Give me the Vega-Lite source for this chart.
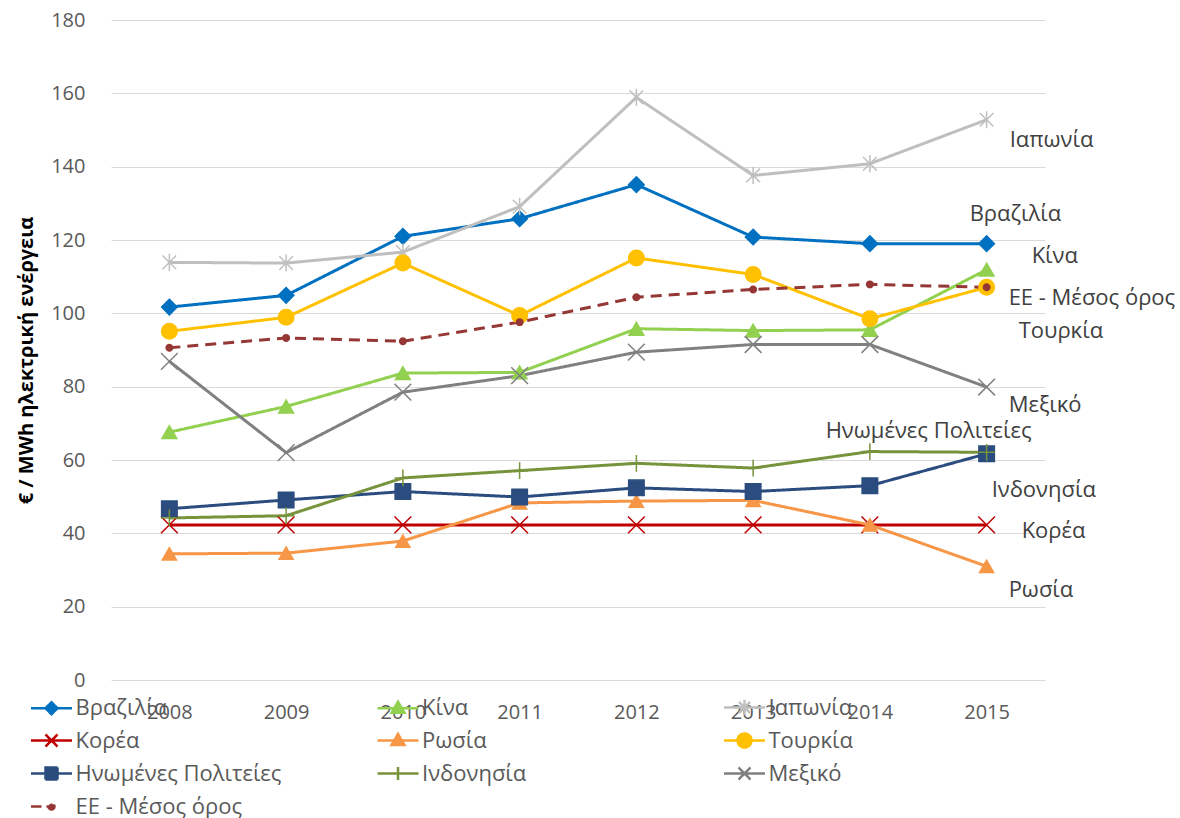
{
  "$schema": "https://vega.github.io/schema/vega-lite/v6.json",
  "width": 934,
  "height": 660,
  "autosize": {"type": "none"},
  "padding": {"left": 111, "top": 20, "right": 135, "bottom": 138},
  "background": "white",
  "config": {
    "view": {"stroke": null},
    "font": "Open Sans",
    "text": {"font": "Open Sans", "fontSize": 22, "color": "#404040", "baseline": "middle", "align": "left"}
  },
  "data": {
    "values": [
      {"series": "Βραζιλία", "year": "2008", "value": 101.7},
      {"series": "Βραζιλία", "year": "2009", "value": 104.9},
      {"series": "Βραζιλία", "year": "2010", "value": 121.0},
      {"series": "Βραζιλία", "year": "2011", "value": 125.8},
      {"series": "Βραζιλία", "year": "2012", "value": 135.1},
      {"series": "Βραζιλία", "year": "2013", "value": 120.8},
      {"series": "Βραζιλία", "year": "2014", "value": 119.0},
      {"series": "Βραζιλία", "year": "2015", "value": 119.0},
      {"series": "Κίνα", "year": "2008", "value": 67.6},
      {"series": "Κίνα", "year": "2009", "value": 74.6},
      {"series": "Κίνα", "year": "2010", "value": 83.7},
      {"series": "Κίνα", "year": "2011", "value": 83.9},
      {"series": "Κίνα", "year": "2012", "value": 95.8},
      {"series": "Κίνα", "year": "2013", "value": 95.3},
      {"series": "Κίνα", "year": "2014", "value": 95.5},
      {"series": "Κίνα", "year": "2015", "value": 111.9},
      {"series": "Ιαπωνία", "year": "2008", "value": 113.9},
      {"series": "Ιαπωνία", "year": "2009", "value": 113.7},
      {"series": "Ιαπωνία", "year": "2010", "value": 116.7},
      {"series": "Ιαπωνία", "year": "2011", "value": 129.1},
      {"series": "Ιαπωνία", "year": "2012", "value": 158.9},
      {"series": "Ιαπωνία", "year": "2013", "value": 137.6},
      {"series": "Ιαπωνία", "year": "2014", "value": 140.8},
      {"series": "Ιαπωνία", "year": "2015", "value": 152.8},
      {"series": "Κορέα", "year": "2008", "value": 42.3},
      {"series": "Κορέα", "year": "2009", "value": 42.3},
      {"series": "Κορέα", "year": "2010", "value": 42.3},
      {"series": "Κορέα", "year": "2011", "value": 42.3},
      {"series": "Κορέα", "year": "2012", "value": 42.3},
      {"series": "Κορέα", "year": "2013", "value": 42.3},
      {"series": "Κορέα", "year": "2014", "value": 42.3},
      {"series": "Κορέα", "year": "2015", "value": 42.3},
      {"series": "Ρωσία", "year": "2008", "value": 34.4},
      {"series": "Ρωσία", "year": "2009", "value": 34.6},
      {"series": "Ρωσία", "year": "2010", "value": 37.9},
      {"series": "Ρωσία", "year": "2011", "value": 48.3},
      {"series": "Ρωσία", "year": "2012", "value": 48.8},
      {"series": "Ρωσία", "year": "2013", "value": 49.0},
      {"series": "Ρωσία", "year": "2014", "value": 42.3},
      {"series": "Ρωσία", "year": "2015", "value": 31.0},
      {"series": "Τουρκία", "year": "2008", "value": 95.1},
      {"series": "Τουρκία", "year": "2009", "value": 98.9},
      {"series": "Τουρκία", "year": "2010", "value": 113.7},
      {"series": "Τουρκία", "year": "2011", "value": 99.4},
      {"series": "Τουρκία", "year": "2012", "value": 115.1},
      {"series": "Τουρκία", "year": "2013", "value": 110.6},
      {"series": "Τουρκία", "year": "2014", "value": 98.5},
      {"series": "Τουρκία", "year": "2015", "value": 107.1},
      {"series": "Ηνωμένες Πολιτείες", "year": "2008", "value": 46.7},
      {"series": "Ηνωμένες Πολιτείες", "year": "2009", "value": 49.1},
      {"series": "Ηνωμένες Πολιτείες", "year": "2010", "value": 51.4},
      {"series": "Ηνωμένες Πολιτείες", "year": "2011", "value": 49.9},
      {"series": "Ηνωμένες Πολιτείες", "year": "2012", "value": 52.4},
      {"series": "Ηνωμένες Πολιτείες", "year": "2013", "value": 51.4},
      {"series": "Ηνωμένες Πολιτείες", "year": "2014", "value": 53.0},
      {"series": "Ηνωμένες Πολιτείες", "year": "2015", "value": 61.7},
      {"series": "Ινδονησία", "year": "2008", "value": 44.2},
      {"series": "Ινδονησία", "year": "2009", "value": 44.8},
      {"series": "Ινδονησία", "year": "2010", "value": 55.1},
      {"series": "Ινδονησία", "year": "2011", "value": 57.1},
      {"series": "Ινδονησία", "year": "2012", "value": 59.1},
      {"series": "Ινδονησία", "year": "2013", "value": 57.8},
      {"series": "Ινδονησία", "year": "2014", "value": 62.3},
      {"series": "Ινδονησία", "year": "2015", "value": 62.1},
      {"series": "Μεξικό", "year": "2008", "value": 86.9},
      {"series": "Μεξικό", "year": "2009", "value": 62.0},
      {"series": "Μεξικό", "year": "2010", "value": 78.5},
      {"series": "Μεξικό", "year": "2011", "value": 83.0},
      {"series": "Μεξικό", "year": "2012", "value": 89.4},
      {"series": "Μεξικό", "year": "2013", "value": 91.5},
      {"series": "Μεξικό", "year": "2014", "value": 91.5},
      {"series": "Μεξικό", "year": "2015", "value": 79.9},
      {"series": "ΕΕ - Μέσος όρος", "year": "2008", "value": 90.6},
      {"series": "ΕΕ - Μέσος όρος", "year": "2009", "value": 93.3},
      {"series": "ΕΕ - Μέσος όρος", "year": "2010", "value": 92.4},
      {"series": "ΕΕ - Μέσος όρος", "year": "2011", "value": 97.6},
      {"series": "ΕΕ - Μέσος όρος", "year": "2012", "value": 104.4},
      {"series": "ΕΕ - Μέσος όρος", "year": "2013", "value": 106.5},
      {"series": "ΕΕ - Μέσος όρος", "year": "2014", "value": 107.9},
      {"series": "ΕΕ - Μέσος όρος", "year": "2015", "value": 107.1}
    ]
  },
  "encoding": {
    "x": {
      "field": "year",
      "type": "ordinal",
      "scale": {"paddingInner": 0, "paddingOuter": 0},
      "axis": {
        "title": null,
        "domain": false,
        "ticks": false,
        "grid": false,
        "labelAngle": 0,
        "labelFont": "Open Sans",
        "labelFontSize": 20,
        "labelColor": "#595959",
        "labelPadding": 22
      }
    },
    "y": {
      "field": "value",
      "type": "quantitative",
      "scale": {"domain": [0, 180], "nice": false},
      "axis": {
        "title": "€ / MWh ηλεκτρική ενέργεια",
        "titleFont": "Open Sans",
        "titleFontSize": 20,
        "titleFontWeight": "bold",
        "titleColor": "#000000",
        "titlePadding": 14,
        "titleY": 340,
        "values": [0, 20, 40, 60, 80, 100, 120, 140, 160, 180],
        "domain": false,
        "ticks": false,
        "gridColor": "#D9D9D9",
        "gridWidth": 1,
        "labelFont": "Open Sans",
        "labelFontSize": 20,
        "labelColor": "#595959",
        "labelPadding": 26
      }
    }
  },
  "layer": [
    {
      "mark": {"type": "line", "strokeWidth": 3},
      "encoding": {
        "color": {
          "field": "series",
          "type": "nominal",
          "scale": {
            "domain": ["Βραζιλία", "Κίνα", "Ιαπωνία", "Κορέα", "Ρωσία", "Τουρκία", "Ηνωμένες Πολιτείες", "Ινδονησία", "Μεξικό", "ΕΕ - Μέσος όρος"],
            "range": ["#0070C0", "#92D050", "#BFBFBF", "#C00000", "#F79646", "#FFC000", "#2B4C7E", "#77933C", "#808080", "#953735"]
          },
          "legend": {
            "title": null,
            "orient": "none",
            "legendX": -71,
            "legendY": 676,
            "direction": "horizontal",
            "columns": 3,
            "gridAlign": "all",
            "columnPadding": 90.5,
            "rowPadding": 8,
            "padding": 0,
            "symbolSize": 400,
            "labelFont": "Open Sans",
            "labelFontSize": 22,
            "labelColor": "#595959",
            "labelLimit": 400,
            "labelOffset": 12.5,
            "encode": {
              "symbols": {
                "update": {
                  "shape": {"signal": "['M-2.05,0L2.05,0M0,-0.6L0.6,0L0,0.6L-0.6,0Z','M-2.05,0L2.05,0M0,-0.65L0.65,0.45L-0.65,0.45Z','M-2.05,0L2.05,0M-0.55,-0.55L0.55,0.55M-0.55,0.55L0.55,-0.55M0,-0.75L0,0.75','M-2.05,0L2.05,0M-0.6,-0.6L0.6,0.6M-0.6,0.6L0.6,-0.6','M-2.05,0L2.05,0M0,-0.65L0.65,0.45L-0.65,0.45Z','M-2.05,0L2.05,0M-0.7,0A0.7,0.7,0,1,0,0.7,0A0.7,0.7,0,1,0,-0.7,0Z','M-2.05,0L2.05,0M-0.6,-0.6L0.6,-0.6L0.6,0.6L-0.6,0.6Z','M-2.05,0L2.05,0M0,-0.65L0,0.65','M-2.05,0L2.05,0M-0.6,-0.6L0.6,0.6M-0.6,0.6L0.6,-0.6','M-2.05,0L-1.0,0M-0.5,0L0.4,0M-0.3,0A0.3,0.3,0,1,0,0.3,0A0.3,0.3,0,1,0,-0.3,0Z'][datum.index]"},
                  "fill": {"scale": "color", "field": "value"},
                  "stroke": {"scale": "color", "field": "value"},
                  "strokeWidth": {"value": 2.5},
                  "strokeDash": {"value": [1, 0]},
                  "opacity": {"value": 1}
                }
              }
            }
          }
        },
        "strokeDash": {
          "field": "series",
          "type": "nominal",
          "scale": {
            "domain": ["Βραζιλία", "Κίνα", "Ιαπωνία", "Κορέα", "Ρωσία", "Τουρκία", "Ηνωμένες Πολιτείες", "Ινδονησία", "Μεξικό", "ΕΕ - Μέσος όρος"],
            "range": [[1, 0], [1, 0], [1, 0], [1, 0], [1, 0], [1, 0], [1, 0], [1, 0], [1, 0], [11, 7]]
          },
          "legend": null
        }
      }
    },
    {
      "mark": {"type": "point", "filled": true, "opacity": 1, "strokeWidth": 1.5},
      "encoding": {
        "shape": {
          "field": "series",
          "type": "nominal",
          "scale": {
            "domain": ["ΕΕ - Μέσος όρος", "Μεξικό", "Ινδονησία", "Ηνωμένες Πολιτείες", "Τουρκία", "Ρωσία", "Κορέα", "Ιαπωνία", "Κίνα", "Βραζιλία"],
            "range": ["circle", "M-1,-1L1,1M-1,1L1,-1", "M-1,0L1,0M0,-1L0,1", "square", "circle", "triangle-up", "M-1,-1L1,1M-1,1L1,-1", "M-0.8,-0.8L0.8,0.8M-0.8,0.8L0.8,-0.8M0,-1L0,1", "triangle-up", "diamond"]
          },
          "legend": null
        },
        "size": {
          "field": "series",
          "type": "nominal",
          "scale": {
            "type": "ordinal",
            "domain": ["ΕΕ - Μέσος όρος", "Μεξικό", "Ινδονησία", "Ηνωμένες Πολιτείες", "Τουρκία", "Ρωσία", "Κορέα", "Ιαπωνία", "Κίνα", "Βραζιλία"],
            "range": [42, 280, 280, 240, 240, 200, 280, 290, 220, 240]
          },
          "legend": null
        },
        "fill": {
          "field": "series",
          "type": "nominal",
          "scale": {
            "domain": ["ΕΕ - Μέσος όρος", "Μεξικό", "Ινδονησία", "Ηνωμένες Πολιτείες", "Τουρκία", "Ρωσία", "Κορέα", "Ιαπωνία", "Κίνα", "Βραζιλία"],
            "range": ["#953735", "#808080", "#77933C", "#2B4C7E", "#FFC000", "#F79646", "#C00000", "#BFBFBF", "#92D050", "#0070C0"]
          },
          "legend": null
        },
        "stroke": {
          "field": "series",
          "type": "nominal",
          "scale": {
            "domain": ["ΕΕ - Μέσος όρος", "Μεξικό", "Ινδονησία", "Ηνωμένες Πολιτείες", "Τουρκία", "Ρωσία", "Κορέα", "Ιαπωνία", "Κίνα", "Βραζιλία"],
            "range": ["#953735", "#808080", "#77933C", "#2B4C7E", "#FFC000", "#F79646", "#C00000", "#BFBFBF", "#92D050", "#0070C0"]
          },
          "legend": null
        }
      }
    },
    {
      "transform": [{"filter": "datum.series === 'Ιαπωνία' && datum.year === '2015'"}],
      "mark": {"type": "text", "dx": 23, "dy": 20},
      "encoding": {"text": {"field": "series"}}
    },
    {
      "transform": [{"filter": "datum.series === 'Βραζιλία' && datum.year === '2015'"}],
      "mark": {"type": "text", "dx": -17, "dy": -30},
      "encoding": {"text": {"field": "series"}}
    },
    {
      "transform": [{"filter": "datum.series === 'Κίνα' && datum.year === '2015'"}],
      "mark": {"type": "text", "dx": 45, "dy": -14},
      "encoding": {"text": {"field": "series"}}
    },
    {
      "transform": [{"filter": "datum.series === 'ΕΕ - Μέσος όρος' && datum.year === '2015'"}],
      "mark": {"type": "text", "dx": 22, "dy": 11},
      "encoding": {"text": {"field": "series"}}
    },
    {
      "transform": [{"filter": "datum.series === 'Τουρκία' && datum.year === '2015'"}],
      "mark": {"type": "text", "dx": 32, "dy": 44},
      "encoding": {"text": {"field": "series"}}
    },
    {
      "transform": [{"filter": "datum.series === 'Μεξικό' && datum.year === '2015'"}],
      "mark": {"type": "text", "dx": 22, "dy": 18},
      "encoding": {"text": {"field": "series"}}
    },
    {
      "transform": [{"filter": "datum.series === 'Ηνωμένες Πολιτείες' && datum.year === '2015'"}],
      "mark": {"type": "text", "align": "right", "dx": 45, "dy": -23},
      "encoding": {"text": {"field": "series"}}
    },
    {
      "transform": [{"filter": "datum.series === 'Ινδονησία' && datum.year === '2015'"}],
      "mark": {"type": "text", "dx": 5, "dy": 38},
      "encoding": {"text": {"field": "series"}}
    },
    {
      "transform": [{"filter": "datum.series === 'Κορέα' && datum.year === '2015'"}],
      "mark": {"type": "text", "dx": 35, "dy": 6},
      "encoding": {"text": {"field": "series"}}
    },
    {
      "transform": [{"filter": "datum.series === 'Ρωσία' && datum.year === '2015'"}],
      "mark": {"type": "text", "dx": 22, "dy": 24},
      "encoding": {"text": {"field": "series"}}
    }
  ]
}
